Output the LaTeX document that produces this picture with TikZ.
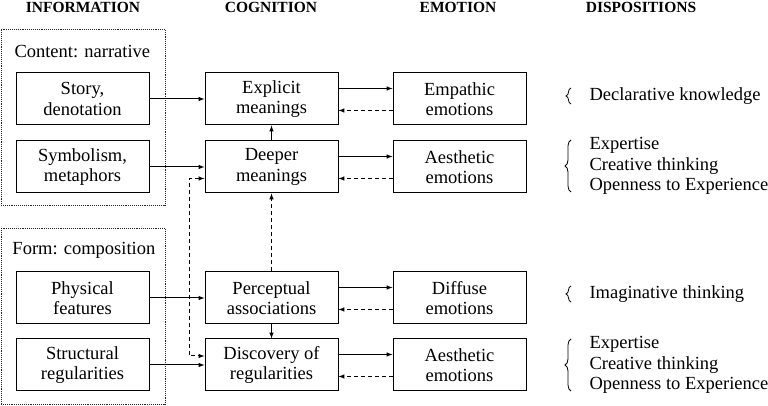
\documentclass[tikz,border=0pt]{standalone}
\usepackage{fontspec}
\setmainfont{Liberation Serif}
\usetikzlibrary{arrows,positioning,decorations.pathreplacing,calc}

\begin{document}
\begin{tikzpicture}[
  x=1pt, y=1pt,
  line width=1pt,
  >=latex,
  mybox/.style={
    draw,
    rectangle,
    minimum width=133pt,
    minimum height=52pt,
    align=center,
    font=\rmfamily\fontsize{18.5}{20.5}\selectfont
    },
  myframe/.style={
    draw=black!85,
    densely dotted,
    line width=0.9pt,
    minimum width=164pt,
    minimum height=176pt
    },
  myhead/.style={font=\rmfamily\fontsize{15.5}{17}\selectfont\bfseries},
  mytext/.style={align=left, inner sep=0pt, font=\rmfamily\fontsize{18.5}{20.5}\selectfont},
  mydash/.style={dash pattern=on 4pt off 3pt},
  mybrace/.style={decorate, decoration={brace, amplitude=#1}, line width=0.8pt}
]
\useasboundingbox (0,0) rectangle (768,406);

% headers
\foreach \Name/\X in {INFORMATION/83, COGNITION/271, EMOTION/458, DISPOSITIONS/641}
  \node[myhead, anchor=base] (head\Name) at (\X,393) {\Name};

% information groups
\node[myframe] (content) at (83,289) {};
\node[myframe] (form) at (83,89.5) {};
\node[mytext, anchor=west] (contentlbl) at (14,354) {Content: narrative};
\node[mytext, anchor=west] (formlbl) at (12,156) {Form: composition};

\node[mybox] (story) at (82.5,307) {Story,\\denotation};
\node[mybox, below=15pt of story] (symbol) {Symbolism,\\metaphors};
\node[mybox] (physical) at (82.5,108) {Physical\\features};
\node[mybox, below=14pt of physical] (structural) {Structural\\regularities};

% cognition
\node[mybox, right=55pt of story] (explicit) {Explicit\\meanings};
\node[mybox, right=55pt of symbol] (deeper) {Deeper\\meanings};
\node[mybox, right=55pt of physical] (perceptual) {Perceptual\\associations};
\node[mybox, right=55pt of structural] (discovery) {Discovery of\\regularities};

% emotion
\node[mybox, right=54pt of explicit] (empathic) {Empathic\\emotions};
\node[mybox, right=54pt of deeper] (aesthetic) {Aesthetic\\emotions};
\node[mybox, right=54pt of perceptual] (diffuse) {Diffuse\\emotions};
\node[mybox, right=54pt of discovery] (aesthetictwo) {Aesthetic\\emotions};

% dispositions
\node[mytext, anchor=west] (declarative) at (589,310) {Declarative knowledge};
\node[mytext, anchor=west] (dispone) at (589,240) {Expertise\\Creative thinking\\Openness to Experience};
\node[mytext, anchor=west] (imaginative) at (589,112) {Imaginative thinking};
\node[mytext, anchor=west] (disptwo) at (589,41) {Expertise\\Creative thinking\\Openness to Experience};

\draw[mybrace=5pt] ([xshift=-18pt,yshift=-8pt]declarative.west) -- ([xshift=-18pt,yshift=8pt]declarative.west);
\draw[mybrace=6pt] ([xshift=-18pt,yshift=-26pt]dispone.west) -- ([xshift=-18pt,yshift=26pt]dispone.west);
\draw[mybrace=5pt] ([xshift=-18pt,yshift=-8pt]imaginative.west) -- ([xshift=-18pt,yshift=8pt]imaginative.west);
\draw[mybrace=6pt] ([xshift=-18pt,yshift=-26pt]disptwo.west) -- ([xshift=-18pt,yshift=26pt]disptwo.west);

% connectors
\draw[->] (story) -- (explicit);
\draw[->] (symbol) -- (deeper);
\draw[->] (physical) -- (perceptual);
\draw[->] (structural) -- (discovery);

\foreach \Cog/\Emo in {explicit/empathic, deeper/aesthetic, perceptual/diffuse, discovery/aesthetictwo} {
  \draw[->] ([yshift=10.5pt]\Cog.east) -- ([yshift=10.5pt]\Emo.west);
  \draw[->, mydash] ([yshift=-11.5pt]\Emo.west) -- ([yshift=-11.5pt]\Cog.east);
}

\draw[->] (deeper) -- (explicit);
\draw[->, mydash] (perceptual) -- (deeper);
\draw[->] (perceptual) -- (discovery);
\draw[<->, mydash] ([yshift=-11.5pt]deeper.west) -- ++(-15,0) |- ([yshift=9pt]discovery.west);

\end{tikzpicture}
\end{document}
